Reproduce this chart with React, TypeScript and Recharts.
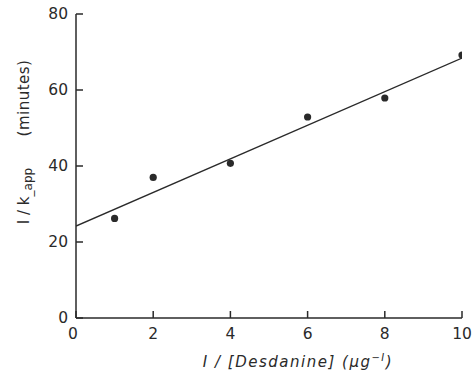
import React from "react";
import { ComposedChart, XAxis, YAxis, Scatter, Line } from "recharts";

const xValues = [1, 2, 4, 6, 8, 10];
const yValues = [26.2, 37.0, 40.7, 52.9, 57.9, 69.2];
const fitX = [0, 10];
const fitY = [24.2, 68.4];
const xTicks = [0, 2, 4, 6, 8, 10];
const yTicks = [0, 20, 40, 60, 80];

const points = xValues.map((x, i) => ({ x, y: yValues[i] }));
const fitLine = fitX.map((x, i) => ({ x, y: fitY[i] }));

const INK = "#2a2a2a";
const FONT = "'DejaVu Sans', sans-serif";

const XTick = (props: any) => {
  const { x, y, payload } = props;
  return (
    <text x={payload.value === 0 ? x - 3 : x} y={y + 16} textAnchor="middle" dominantBaseline="central" fill={INK} fontSize={15.5} fontFamily={FONT}>
      {payload.value}
    </text>
  );
};

const YTick = (props: any) => {
  const { x, y, payload } = props;
  return (
    <text x={x} y={y} textAnchor="end" dominantBaseline="central" fill={INK} fontSize={15.5} fontFamily={FONT}>
      {payload.value}
    </text>
  );
};

const Dot = (props: any) => {
  const { cx, cy } = props;
  return <circle cx={cx} cy={cy} r={3.6} fill={INK} />;
};

export default function App() {
  const yAxisWidth = 50;
  const xAxisHeight = 30;
  return (
    <div style={{ position: "absolute", left: 0, top: 0, background: "#fff" }}>
      <ComposedChart
        width={473}
        height={370}
        margin={{ top: 14, right: 11, bottom: 52 - xAxisHeight, left: 76 - yAxisWidth }}
      >
        <XAxis
          type="number"
          dataKey="x"
          domain={[0, 10]}
          ticks={xTicks}
          height={xAxisHeight}
          tickSize={-7}
          tickMargin={7}
          tick={<XTick />}
          axisLine={{ stroke: INK, strokeWidth: 1.5 }}
          tickLine={{ stroke: INK, strokeWidth: 1.5 }}
          allowDataOverflow
        />
        <YAxis
          type="number"
          dataKey="y"
          domain={[0, 80]}
          ticks={yTicks}
          width={yAxisWidth}
          tickSize={-7}
          tickMargin={15}
          tick={<YTick />}
          axisLine={{ stroke: INK, strokeWidth: 1.5 }}
          tickLine={{ stroke: INK, strokeWidth: 1.5 }}
          allowDataOverflow
        />
        <Line
          data={fitLine}
          dataKey="y"
          stroke={INK}
          strokeWidth={1.3}
          dot={false}
          activeDot={false}
          isAnimationActive={false}
          legendType="none"
        />
        <Scatter data={points} dataKey="y" shape={<Dot />} isAnimationActive={false} />
        <text x={298} y={362} textAnchor="middle" dominantBaseline="central" fill={INK} fontSize={15} fontFamily={FONT} fontStyle="italic" letterSpacing={1.5}>
          {"I / [Desdanine]  (\u00b5g"}
          <tspan dy={-5} fontSize={10}>{"\u2212I"}</tspan>
          <tspan dy={5}>{")"}</tspan>
        </text>
        <text
          transform="translate(24,98) rotate(-90)"
          textAnchor="middle"
          dominantBaseline="central"
          fill={INK}
          fontSize={15}
          fontFamily={FONT}
          letterSpacing={0.5}
        >
          (minutes)
        </text>
        <text
          transform="translate(24,196) rotate(-90)"
          textAnchor="middle"
          dominantBaseline="central"
          fill={INK}
          fontSize={15}
          fontFamily={FONT}
        >
          {"I / k"}
          <tspan dy={4} fontSize={12}>{"_app"}</tspan>
        </text>
      </ComposedChart>
    </div>
  );
}
